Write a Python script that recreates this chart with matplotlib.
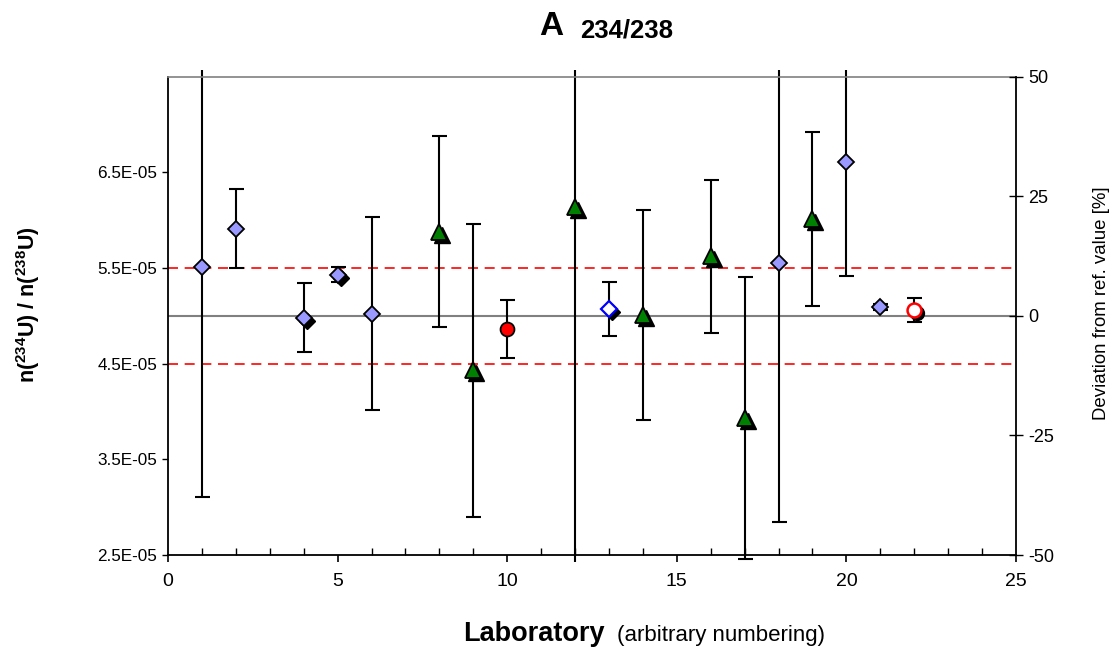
import matplotlib
matplotlib.use("Agg")
import matplotlib.pyplot as plt
import matplotlib.transforms as mtransforms
from matplotlib.patches import Rectangle
from matplotlib.ticker import FixedLocator, MultipleLocator, FuncFormatter

plt.rcParams['font.family'] = ['Liberation Sans', 'DejaVu Sans']
plt.rcParams['mathtext.fontset'] = 'custom'
plt.rcParams['mathtext.rm'] = 'Liberation Sans'
plt.rcParams['mathtext.bf'] = 'Liberation Sans:bold'
plt.rcParams['axes.unicode_minus'] = False

# ---------------- data ----------------
REF = 5.0e-05
# filled lavender diamonds
dia_labs = [1, 2, 4, 5, 6, 18, 20, 21]
dia_vals = [5.51e-05, 5.91e-05, 4.98e-05, 5.43e-05, 5.02e-05, 5.55e-05, 6.61e-05, 5.09e-05]
dia_unc = [2.40e-05, 0.41e-05, 0.36e-05, 0.08e-05, 1.01e-05, 2.71e-05, 1.19e-05, 0.03e-05]
# green triangles
tri_labs = [8, 9, 12, 14, 16, 17, 19]
tri_vals = [5.88e-05, 4.43e-05, 6.14e-05, 5.01e-05, 5.62e-05, 3.93e-05, 6.01e-05]
tri_unc = [1.00e-05, 1.53e-05, 4.00e-05, 1.10e-05, 0.80e-05, 1.47e-05, 0.91e-05]
# filled red circle
circ_labs = [10]
circ_vals = [4.86e-05]
circ_unc = [0.30e-05]
# open blue diamond
odia_labs = [13]
odia_vals = [5.07e-05]
odia_unc = [0.285e-05]
# open red circle
ocirc_labs = [22]
ocirc_vals = [5.06e-05]
ocirc_unc = [0.125e-05]
# labs whose diamond markers carry a black shadow
shadow_dia_labs = [4, 5]

ytick_vals = [2.5e-05, 3.5e-05, 4.5e-05, 5.5e-05, 6.5e-05]
rtick_vals = [-50, -25, 0, 25, 50]

# ---------------- figure ----------------
fig = plt.figure(figsize=(11.2, 6.51), dpi=100)
ax = fig.add_axes([168 / 1120, 1 - 555 / 651, 848 / 1120, 478.5 / 651])
ax.set_xlim(0, 25)
ax.set_ylim(REF * 0.5, REF * 1.5)

# reference lines
ax.axhline(REF, color='#808080', lw=1.5, zorder=1)
ax.axhline(REF * 1.1, color='#FF0000', lw=1.2, dashes=(6, 4), zorder=1)
ax.axhline(REF * 0.9, color='#FF0000', lw=1.2, dashes=(6, 4), zorder=1)

clip_rect = Rectangle((0, -0.014), 1, 1.028, transform=ax.transAxes, visible=False)
ax.add_patch(clip_rect)

def ebars(x, y, e):
    cont = ax.errorbar(x, y, yerr=e, fmt='none', ecolor='black', elinewidth=1.5,
                       capsize=5.4, capthick=1.5, zorder=2)
    for art in list(cont.lines[1]) + list(cont.lines[2]):
        art.set_clip_path(clip_rect)

for x, y, e in [(dia_labs, dia_vals, dia_unc), (tri_labs, tri_vals, tri_unc),
                (circ_labs, circ_vals, circ_unc), (odia_labs, odia_vals, odia_unc),
                (ocirc_labs, ocirc_vals, ocirc_unc)]:
    ebars(x, y, e)

shadow = mtransforms.offset_copy(ax.transData, fig=fig, x=3, y=-3, units='dots')

DMS, TMS, CMS = 8.3, 11.5, 10.0

# shadows
sx = [l for l in dia_labs if l in shadow_dia_labs]
sy = [v for l, v in zip(dia_labs, dia_vals) if l in shadow_dia_labs]
ax.plot(sx, sy, 'D', ms=DMS, color='black', mec='black', transform=shadow, zorder=3)
ax.plot(odia_labs, odia_vals, 'D', ms=DMS, color='black', mec='black', transform=shadow, zorder=3)
ax.plot(tri_labs, tri_vals, '^', ms=TMS, color='black', mec='black', transform=shadow, zorder=3)
ax.plot(ocirc_labs, ocirc_vals, 'o', ms=CMS, color='black', mec='black', transform=shadow, zorder=3)

# markers
ax.plot(dia_labs, dia_vals, 'D', ms=DMS, mfc='#9999FF', mec='black', mew=1.3, zorder=4)
ax.plot(tri_labs, tri_vals, '^', ms=TMS, mfc='#008000', mec='black', mew=1.3, zorder=4)
ax.plot(circ_labs, circ_vals, 'o', ms=CMS, mfc='#FF0000', mec='black', mew=1.3, zorder=4)
ax.plot(odia_labs, odia_vals, 'D', ms=DMS, mfc='white', mec='#0000FF', mew=1.6, zorder=4)
ax.plot(ocirc_labs, ocirc_vals, 'o', ms=CMS, mfc='white', mec='#FF0000', mew=1.8, zorder=4)

# axes styling
for s in ['left', 'bottom']:
    ax.spines[s].set_color('black')
    ax.spines[s].set_linewidth(1.3)
ax.spines['top'].set_color('#808080')
ax.spines['top'].set_linewidth(1.2)
ax.spines['right'].set_visible(False)

ax.xaxis.set_major_locator(MultipleLocator(5))
ax.xaxis.set_minor_locator(MultipleLocator(1))
ax.tick_params(axis='x', which='major', direction='out', length=5, width=1.2,
               labelsize=14, pad=8)
ax.tick_params(axis='x', which='minor', direction='in', length=5, width=1.0)
ax.yaxis.set_major_locator(FixedLocator(ytick_vals))
ax.yaxis.set_major_formatter(FuncFormatter(lambda v, p: f"{v:.1E}"))
ax.tick_params(axis='y', which='major', direction='out', length=4, width=1.0,
               labelsize=12.3, pad=4)
ax.xaxis.set_ticks_position('bottom')

ax2 = ax.twinx()
ax2.set_ylim(-50, 50)
ax2.yaxis.set_major_locator(FixedLocator(rtick_vals))
ax2.tick_params(axis='y', which='major', direction='inout', length=10, width=1.0,
                labelsize=13, pad=4)
for s in ['left', 'top', 'bottom']:
    ax2.spines[s].set_visible(False)
ax2.spines['right'].set_color('black')
ax2.spines['right'].set_linewidth(1.3)

# texts
fig.text(563 / 1120, 1 - 35 / 651, 'A', ha='right', va='baseline', size=24, weight='bold')
fig.text(580 / 1120, 1 - 37 / 651, '234/238', ha='left', va='baseline', size=18.5, weight='bold')

fig.text(28 / 1120, 1 - 305 / 651,
         r'n($^{\mathbf{234}}$U) / n($^{\mathbf{238}}$U)',
         rotation=90, ha='center', va='center', size=15.5, weight='bold')
fig.text(1102 / 1120, 1 - 303 / 651, 'Deviation from ref. value [%]',
         rotation=90, ha='center', va='center', size=13.4)

fig.text(463 / 1120, 1 - 641 / 651, 'Laboratory', ha='left', va='baseline',
         size=19.5, weight='bold')
fig.text(617 / 1120, 1 - 641 / 651, '(arbitrary numbering)', ha='left', va='baseline',
         size=16)

fig.savefig('out.png', dpi=100)
